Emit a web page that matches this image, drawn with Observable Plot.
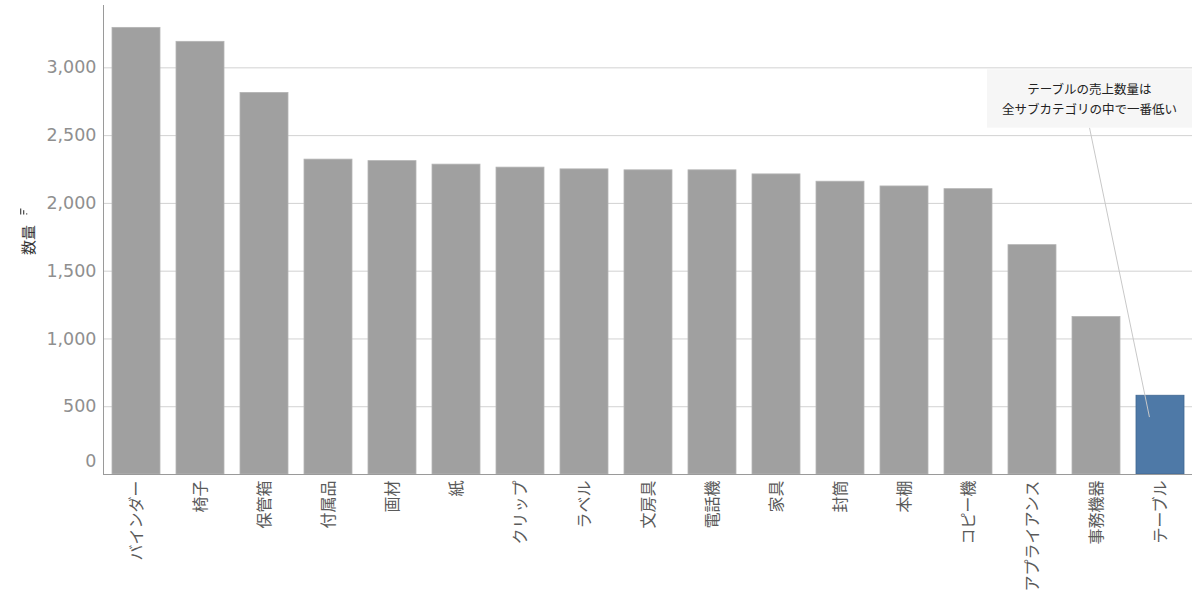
<!DOCTYPE html>
<html>
<head>
<meta charset="utf-8">
<script src="https://cdn.jsdelivr.net/npm/d3@7"></script>
<script src="https://cdn.jsdelivr.net/npm/@observablehq/plot@0.6"></script>
<style>
  html, body { margin: 0; padding: 0; background: #fff; }
  #chart svg { display: block; }
</style>
</head>
<body>
<div id="chart"></div>
<script>
// Sub-categories sorted by quantity sold (descending)
const subcategories = [
  "バインダー", "椅子", "保管箱", "付属品", "画材", "紙", "クリップ", "ラベル",
  "文房具", "電話機", "家具", "封筒", "本棚", "コピー機", "アプライアンス", "事務機器", "テーブル"
];
const quantities = [
  3295, 3192, 2815, 2323, 2312, 2286, 2264, 2251,
  2244, 2244, 2214, 2160, 2125, 2105, 1692, 1162, 581
];
const highlighted = "テーブル";
const yTicks = [0, 500, 1000, 1500, 2000, 2500, 3000];
const yTitle = "数量";
const noteLines = ["テーブルの売上数量は", "全サブカテゴリの中で一番低い"];
const noteTarget = 420;          // value where the pointer ends on the highlighted bar
const noteBox = [2555, 2985];    // vertical extent of the note box, in quantity units

const rows = subcategories.map((name, i) => ({ name, qty: quantities[i] }));

const FONT = "'DejaVu Sans', 'Noto Sans CJK JP', sans-serif";
const CJK = "'Noto Sans CJK JP', sans-serif";
const ns = "http://www.w3.org/2000/svg";

function el(tag, attrs) {
  const e = document.createElementNS(ns, tag);
  for (const k in attrs) e.setAttribute(k, attrs[k]);
  return e;
}

// Callout box with a pointer line down to the highlighted bar
function note(index, scales, values, dims) {
  const g = el("g", {});
  const bw = typeof scales.x.bandwidth === "function" ? scales.x.bandwidth() : scales.x.bandwidth;
  const right = dims.width - dims.marginRight;
  const boxW = 205;
  const top = scales.y(noteBox[1]);
  const bottom = scales.y(noteBox[0]);
  const left = right - boxW;
  const cx = left + boxW / 2;
  const tx = scales.x(highlighted) + bw * 0.28;
  const ty = scales.y(noteTarget);

  g.appendChild(el("line", { x1: cx, y1: bottom, x2: tx, y2: ty, stroke: "#c8c8c8", "stroke-width": 1 }));
  g.appendChild(el("rect", { x: left, y: top, width: boxW, height: bottom - top, fill: "#f6f6f6" }));

  const mid = (top + bottom) / 2;
  noteLines.forEach((t, i) => {
    const text = el("text", {
      x: cx,
      y: mid + (i - (noteLines.length - 1) / 2) * 20,
      "text-anchor": "middle",
      "dominant-baseline": "central",
      "font-family": CJK,
      "font-size": 12.5,
      fill: "#222"
    });
    text.textContent = t;
    g.appendChild(text);
  });
  return g;
}

// Small descending-sort indicator drawn above the y-axis title
function sortIcon(index, scales, values, dims) {
  const g = el("g", { fill: "#555" });
  const cy = dims.marginTop + (dims.height - dims.marginTop - dims.marginBottom) / 2;
  const x0 = dims.marginLeft - 83, base = cy - 25;
  [6, 4.3, 1.2].forEach((h, i) => {
    g.appendChild(el("rect", { x: x0 + i * 3, y: base - h, width: 1.3, height: h }));
  });
  return g;
}

const chart = Plot.plot({
  width: 1200,
  height: 593,
  marginLeft: 103,
  marginRight: 8,
  marginTop: 5,
  marginBottom: 119,
  style: { fontFamily: FONT, background: "#fff" },
  x: { domain: subcategories, paddingInner: 0.25, paddingOuter: 0.125, label: null },
  y: { domain: [0, 3460], label: null },
  marks: [
    Plot.gridY({ ticks: yTicks.filter(d => d > 0), stroke: "#d2d2d2", strokeOpacity: 1 }),
    Plot.barY(rows, {
      x: "name",
      y: "qty",
      fill: d => d.name === highlighted ? "#4e79a7" : "#a0a0a0",
      stroke: d => d.name === highlighted ? "#3f6791" : "#b4b4b4",
      strokeWidth: 0.8
    }),
    Plot.ruleY([0], { stroke: "#9a9a9a" }),
    Plot.frame({ anchor: "left", stroke: "#9a9a9a" }),
    Plot.axisY({ ticks: yTicks.filter(d => d > 0), tickSize: 0, tickPadding: 7, fontSize: 17.5, color: "#8f8f8f", label: null, tickFormat: d3.format(",") }),
    Plot.axisY({ ticks: [0], tickSize: 0, tickPadding: 7, fontSize: 17.5, color: "#8f8f8f", label: null, dy: -13 }),
    Plot.axisY({ ticks: [], label: yTitle, labelAnchor: "center", labelArrow: "none", labelOffset: 80, fontSize: 15, color: "#333", fontFamily: CJK, dy: -3 }),
    Plot.axisX({ tickSize: 0, tickPadding: 6, tickRotate: -90, fontSize: 16, color: "#5a5a5a", label: null, fontFamily: CJK }),
    sortIcon,
    note
  ]
});
document.getElementById("chart").appendChild(chart);
</script>
</body>
</html>
